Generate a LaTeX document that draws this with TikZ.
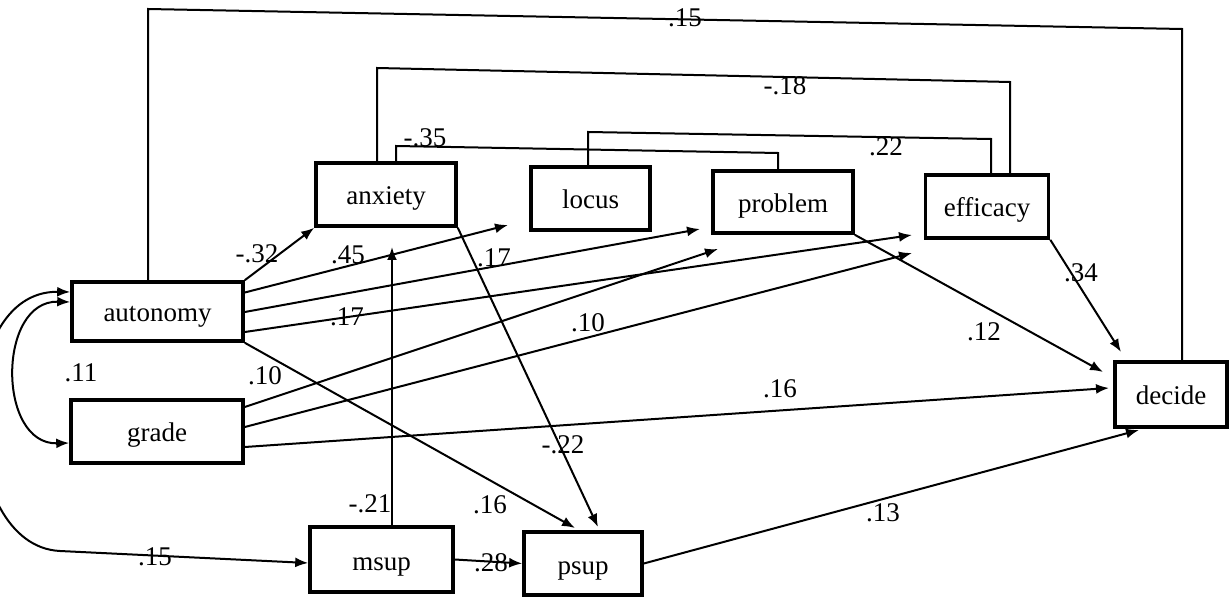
\documentclass[tikz,border=0pt]{standalone}
\usepackage{fontspec}
\setmainfont{Liberation Serif}
\usetikzlibrary{arrows.meta,calc}
\begin{document}
\begin{tikzpicture}[x={(0.5pt,0)},y={(0,-0.5pt)},
  box/.style={draw,line width=1.8pt,inner sep=0pt,text height=10.5pt,text depth=0pt,font=\fontsize{13.5}{16}\selectfont},
  lab/.style={inner sep=0pt,font=\fontsize{13.5}{16}\selectfont},
  conn/.style={line width=1pt},
  arr/.style={conn,-{Latex[length=6.5pt,width=5pt]}},
  darr/.style={conn,{Latex[length=6.5pt,width=5pt]}-{Latex[length=6.5pt,width=5pt]}}]
\fill[white] (0,0) rectangle (1231,598);
\path[use as bounding box] (0,0) rectangle (1231,598);
\clip (0,0) rectangle (1231,598);
% boxes
\node[box,minimum width=85.5pt,minimum height=29.5pt] (autonomy) at (157.5,311.5) {autonomy};
\node[box,minimum width=86pt,minimum height=31.5pt] (grade) at (157,431.5) {grade};
\node[box,minimum width=70pt,minimum height=31.5pt] (anxiety) at (386,194.5) {anxiety};
\node[box,minimum width=59.5pt,minimum height=31.5pt] (locus) at (590.5,198.5) {locus};
\node[box,minimum width=70pt,minimum height=31pt] (problem) at (783,202) {problem};
\node[box,minimum width=61.5pt,minimum height=31.5pt] (efficacy) at (987,206.5) {efficacy};
\node[box,minimum width=56pt,minimum height=32.5pt] (decide) at (1171,394.5) {decide};
\node[box,minimum width=71.5pt,minimum height=32.5pt] (msup) at (381.5,559.5) {msup};
\node[box,minimum width=59pt,minimum height=31.5pt] (psup) at (583,563.5) {psup};
% bracket connectors
\coordinate (t1) at (148,9); \coordinate (t2) at (1182,29);
\draw[conn] (autonomy.north -| t1) -- (t1) -- (t2) -- (decide.north -| t2);
\coordinate (u1) at (377,68); \coordinate (u2) at (1010,82);
\draw[conn] (anxiety.north -| u1) -- (u1) -- (u2) -- (efficacy.north -| u2);
\coordinate (v1) at (396,146); \coordinate (v2) at (778,153);
\draw[conn] (anxiety.north -| v1) -- (v1) -- (v2) -- (problem.north -| v2);
\coordinate (w1) at (588,132); \coordinate (w2) at (991,139);
\draw[conn] (locus.north -| w1) -- (w1) -- (w2) -- (efficacy.north -| w2);
% arrows
\draw[arr] (autonomy.north east) -- (anxiety.south west);
\coordinate (e45) at (508,225);
\draw[arr] ($(autonomy.east)+(0,-19)$) -- (e45);
\coordinate (epr) at (700,229);
\draw[arr] ($(autonomy.east)+(0,0.5)$) -- (epr);
\coordinate (eef1) at (912,235);
\draw[arr] ($(autonomy.east)+(0,20.5)$) -- (eef1);
\coordinate (eps1) at (575,528);
\draw[arr] (autonomy.south east) -- (eps1);
\coordinate (epr2) at (718,249);
\draw[arr] ($(grade.east)+(0,-24.5)$) -- (epr2);
\coordinate (eef2) at (912,253);
\draw[arr] ($(grade.east)+(0,-4.5)$) -- (eef2);
\coordinate (ede1) at (1109,388);
\draw[arr] ($(grade.east)+(0,15.5)$) -- (ede1);
\coordinate (eps2) at (598,527);
\draw[arr] (anxiety.south east) -- (eps2);
\coordinate (ean) at (392,247);
\draw[arr] (msup.north -| ean) -- (ean);
\draw[arr] (msup.east) -- (psup.west);
\coordinate (ede2) at (1139,430);
\draw[arr] (psup.east) -- (ede2);
\coordinate (ede3) at (1103,372);
\draw[arr] (problem.south east) -- (ede3);
\coordinate (ede4) at (1121,352);
\draw[arr] (efficacy.south east) -- (ede4);
% covariances
\draw[darr] ($(autonomy.west)+(0,-9.5)$) .. controls (-3,300) and (-3,445) .. ($(grade.west)+(0,11.5)$);
\draw[darr] ($(autonomy.west)+(0,-19.5)$) .. controls (-50,290) and (-45,546) .. (60,551) -- ($(msup.west)+(0,3.5)$);
% labels
\node[lab] (l15t) at (685,18) {.15};
\node[lab] (l18) at (785,86) {-.18};
\node[lab] (l35) at (425,138) {-.35};
\node[lab] (l22) at (886,147) {.22};
\node[lab] (l32) at (257,254) {-.32};
\node[lab] (l45) at (348,255) {.45};
\node[lab] (l17a) at (494,258) {.17};
\node[lab] (l17b) at (347,317) {.17};
\node[lab] (l10a) at (265,376) {.10};
\node[lab] (l10b) at (588,323) {.10};
\node[lab] (l16a) at (780,389) {.16};
\node[lab] (l12) at (984,332) {.12};
\node[lab] (l34) at (1081,273) {.34};
\node[lab] (l11) at (81,373) {.11};
\node[lab] (l15b) at (155,557) {.15};
\node[lab] (l21) at (370,504) {-.21};
\node[lab] (l16b) at (490,505) {.16};
\node[lab] (l22b) at (563,445) {-.22};
\node[lab] (l28) at (491,563) {.28};
\node[lab] (l13) at (883,513) {.13};
\end{tikzpicture}
\end{document}
